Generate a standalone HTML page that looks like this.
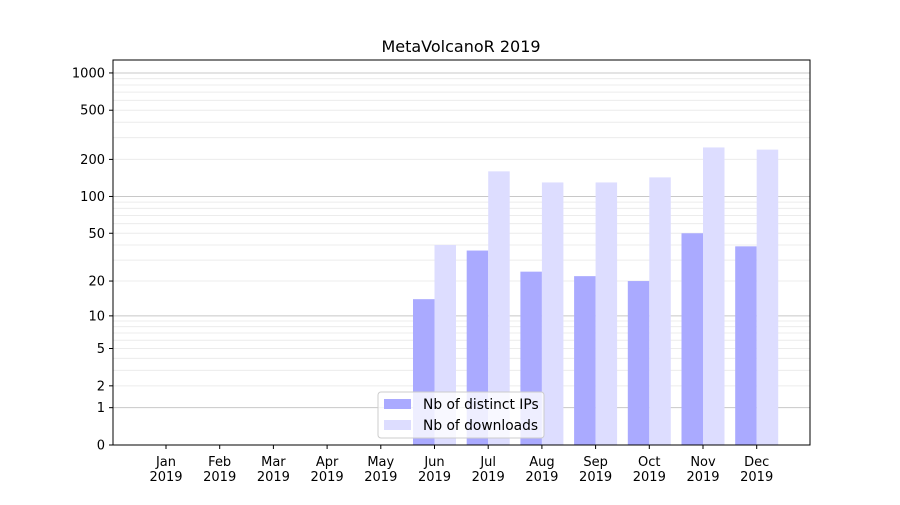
<!DOCTYPE html>
<html><head><meta charset="utf-8"><style>
body{margin:0;background:#fff;}
svg text{font-family:"DejaVu Sans","Liberation Sans",sans-serif;}
</style></head><body>
<svg id="chart" width="900" height="500" xmlns="http://www.w3.org/2000/svg">
<rect width="900" height="500" fill="#fff"/>
<text x="461" y="52" text-anchor="middle" font-size="16" fill="#000">MetaVolcanoR 2019</text>
<g id="grid"></g>
<g id="bars"></g>
<rect x="113" y="60" width="697" height="385" fill="none" stroke="#000" stroke-width="1"/>
<g id="axes"></g>
<g>
<rect x="378" y="392" width="166" height="46" rx="3" fill="#fff" fill-opacity="0.8" stroke="#ccc"/>
<rect x="384" y="399" width="27" height="10" fill="#aaaaff"/>
<text x="423" y="409" font-size="13.8">Nb of distinct IPs</text>
<rect x="384" y="420" width="27" height="10" fill="#ddddff"/>
<text x="423" y="430" font-size="13.8">Nb of downloads</text>
</g>
</svg>
<script>
const months=["Jan","Feb","Mar","Apr","May","Jun","Jul","Aug","Sep","Oct","Nov","Dec"];
const ips=[0,0,0,0,0,14,36,24,22,20,50,39];
const downloads=[0,0,0,0,0,40,160,130,130,143,250,240];
const yTicks=[0,1,2,5,10,20,50,100,200,500,1000];
const NS="http://www.w3.org/2000/svg";
function y(v){return 445-124*Math.log10(1+v);}
function xc(i){return 166+i*53.7;}
const bw=21.5;
function mk(tag,attrs,parent){const e=document.createElementNS(NS,tag);for(const k in attrs)e.setAttribute(k,attrs[k]);parent.appendChild(e);return e;}
const grid=document.getElementById('grid'),bars=document.getElementById('bars'),axes=document.getElementById('axes');
[1,10,100,1000].forEach(d=>{for(let m=1;m<=9;m++){const v=d*m;if(y(v)<60)return;const major=(m===1);
const l=mk('line',{x1:113,x2:810,y1:y(v),y2:y(v),stroke:major?'#c8c8c8':'#ececec','stroke-width':1},grid);

}});
months.forEach((m,i)=>{
 if(ips[i]>0){const r=mk('rect',{x:xc(i)-bw,y:y(ips[i]),width:bw,height:445-y(ips[i]),fill:'#aaaaff'},bars);
 
 }
 if(downloads[i]>0){const r=mk('rect',{x:xc(i),y:y(downloads[i]),width:bw,height:445-y(downloads[i]),fill:'#ddddff'},bars);
 
 }
 mk('line',{x1:xc(i),x2:xc(i),y1:445,y2:449,stroke:'#000'},axes);
 const t=mk('text',{x:xc(i),y:466,'text-anchor':'middle','font-size':13},axes);
 
 
 const a=mk('tspan',{x:xc(i)},t);a.textContent=m;
 const b=mk('tspan',{x:xc(i),dy:15},t);b.textContent='2019';
});
yTicks.forEach(v=>{
 mk('line',{x1:109,x2:113,y1:y(v),y2:y(v),stroke:'#000'},axes);
 const t=mk('text',{x:105,y:y(v)+4.5,'text-anchor':'end','font-size':13},axes);
 
 
 t.textContent=v;
});
</script>
</body></html>
